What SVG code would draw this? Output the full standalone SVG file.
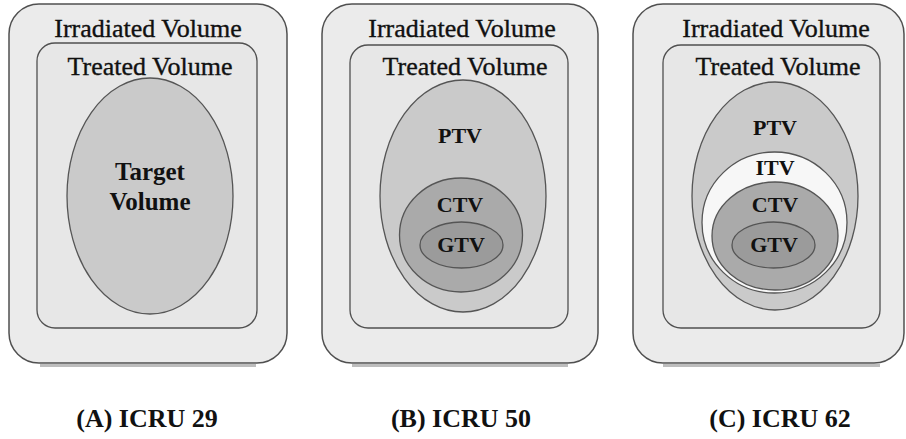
<svg xmlns="http://www.w3.org/2000/svg" width="906" height="439" viewBox="0 0 906 439">
<style>
.outer{fill:#ebebeb;stroke:#505050;stroke-width:1.5}
.shadow{fill:none;stroke:#bdbdbd;stroke-width:3}
.inner{fill:#e7e7e7;stroke:#505050;stroke-width:1.3}
.ptv{fill:#cacaca;stroke:#555;stroke-width:1.3}
.itv{fill:#f7f7f7;stroke:#555;stroke-width:1.3}
.ctv{fill:#aaaaaa;stroke:#555;stroke-width:1.3}
.gtv{fill:#9b9b9b;stroke:#555;stroke-width:1.3}
.t{font-family:"Liberation Serif","Times New Roman",serif;font-size:26px;fill:#111;stroke:#111;stroke-width:0.35;text-anchor:middle}
.b{font-family:"Liberation Serif","Times New Roman",serif;font-weight:bold;font-size:22px;fill:#111;text-anchor:middle}
.cap{font-family:"Liberation Serif","Times New Roman",serif;font-weight:bold;font-size:26px;fill:#111;text-anchor:middle}
</style>
<rect width="906" height="439" fill="#ffffff"/>
<g id="panelA">
<line class="shadow" x1="40" y1="365.5" x2="256" y2="365.5"/>
<rect class="outer" x="9" y="4" width="278" height="359" rx="30"/>
<text class="t" x="148" y="37">Irradiated Volume</text>
<rect class="inner" x="37" y="43" width="220" height="285" rx="18"/>
<text class="t" x="150" y="75">Treated Volume</text>
<ellipse class="ptv" cx="150" cy="196" rx="83" ry="118"/>
<text class="b" x="150" y="180" style="font-size:25px">Target</text>
<text class="b" x="150" y="210" style="font-size:25px">Volume</text>
<text class="cap" x="147" y="427">(A) ICRU 29</text>
</g>
<g id="panelB">
<line class="shadow" x1="352" y1="365.5" x2="568" y2="365.5"/>
<rect class="outer" x="322" y="4" width="276" height="359" rx="30"/>
<text class="t" x="462" y="37">Irradiated Volume</text>
<rect class="inner" x="350" y="45" width="218" height="283" rx="18"/>
<text class="t" x="465" y="75">Treated Volume</text>
<ellipse class="ptv" cx="463" cy="196" rx="83" ry="116"/>
<text class="b" x="460" y="143">PTV</text>
<ellipse class="ctv" cx="461" cy="235" rx="61.5" ry="57"/>
<text class="b" x="460" y="212">CTV</text>
<ellipse class="gtv" cx="461.5" cy="245" rx="41.5" ry="23"/>
<text class="b" x="461" y="252">GTV</text>
<text class="cap" x="461" y="427">(B) ICRU 50</text>
</g>
<g id="panelC">
<line class="shadow" x1="663" y1="365.5" x2="880" y2="365.5"/>
<rect class="outer" x="633" y="4" width="271" height="359" rx="30"/>
<text class="t" x="776" y="37">Irradiated Volume</text>
<rect class="inner" x="663" y="45" width="217" height="283" rx="18"/>
<text class="t" x="778" y="75">Treated Volume</text>
<ellipse class="ptv" cx="775" cy="196" rx="83" ry="114"/>
<text class="b" x="775" y="135">PTV</text>
<ellipse class="itv" cx="774.5" cy="222.5" rx="72.5" ry="70.5"/>
<text class="b" x="775" y="175">ITV</text>
<ellipse class="ctv" cx="775" cy="236" rx="63" ry="54"/>
<text class="b" x="775" y="212">CTV</text>
<ellipse class="gtv" cx="773.5" cy="245" rx="41.5" ry="23"/>
<text class="b" x="774" y="252">GTV</text>
<text class="cap" x="780" y="427">(C) ICRU 62</text>
</g>
<g id="connectors"></g>
</svg>
